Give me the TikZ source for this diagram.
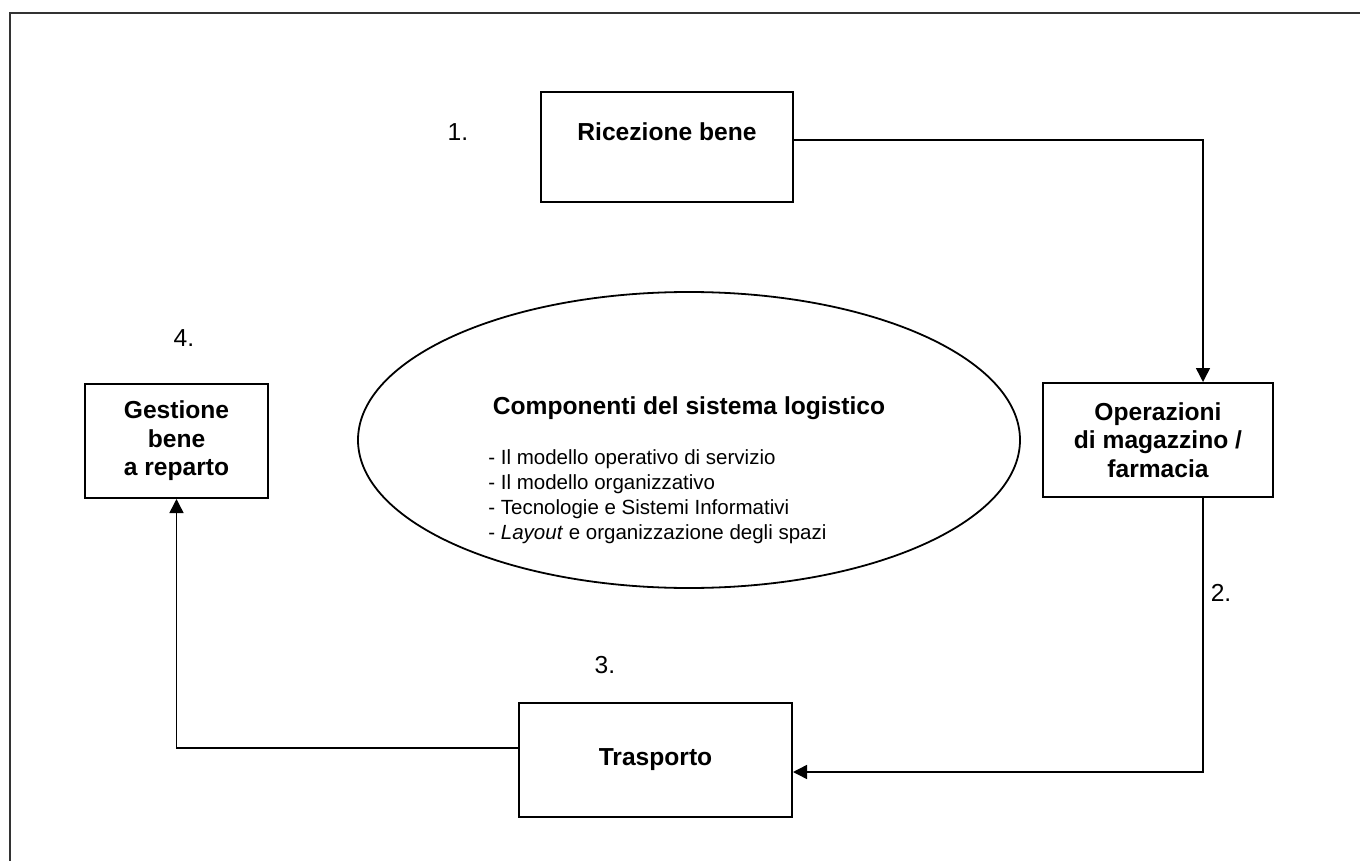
\documentclass[tikz,border=0pt]{standalone}
\usepackage{fontspec}
\setmainfont{Liberation Sans}
\usetikzlibrary{positioning}
\usetikzlibrary{calc}
\usetikzlibrary{arrows.meta}
\usetikzlibrary{shapes.geometric}

\begin{document}
\begin{tikzpicture}[
    x=0.5pt, y=-0.5pt,
    box/.style={rectangle, draw, line width=1pt, inner sep=0pt, minimum height=57pt, align=center, font=\fontsize{12.3pt}{14.2pt}\selectfont\bfseries},
    numero/.style={inner sep=0pt, font=\fontsize{12.3pt}{14.2pt}\selectfont},
    flow/.style={->, line width=0.75pt},
    >={Triangle[length=7pt,width=7pt]}
]
    \useasboundingbox (0,0) rectangle (1360,861);
    % cornice
    \draw[line width=1.2pt, black!80] (1360,13) -- (10,13) -- (10,861);

    \node[box, minimum width=126pt, minimum height=0pt, text height=24.5pt, text depth=30.5pt, anchor=base] (ricezione) at (667,141) {Ricezione bene};
    \node[box, minimum width=115pt] (operazioni) at (1158,440) {Operazioni\\di magazzino /\\farmacia};
    \node[box, minimum width=136.5pt] (trasporto) at (655.5,760) {Trasporto};
    \node[box, minimum width=91.5pt] (gestione) at (176.5,441) {Gestione\\bene\\a reparto};

    % componenti
    \node[ellipse, draw, line width=0.9pt, inner sep=0pt, minimum width=331pt, minimum height=148pt] (sistema) at (689,440) {};
    \node[inner sep=0pt, font=\fontsize{12.3pt}{14.2pt}\selectfont\bfseries] (titolo) at (689,408) {Componenti del sistema logistico};
    \node[inner sep=0pt, align=left, anchor=north west, font=\fontsize{10.25pt}{12.5pt}\selectfont] (elenco) at (488,449)
        {- Il modello operativo di servizio\\- Il modello organizzativo\\- Tecnologie e Sistemi Informativi\\- \textit{Layout} e organizzazione degli spazi};

    \node[numero] (n1) at (458,132) {1.};
    \node[numero] (n2) at (1221,593) {2.};
    \node[numero] (n3) at (605,665) {3.};
    \node[numero] (n4) at (184,338) {4.};

    \draw[flow] ([yshift=3.5pt]ricezione.east) -| ([xshift=22.5pt]operazioni.north);
    \draw[flow] ([xshift=22.5pt]operazioni.south) |- ([yshift=-6pt]trasporto.east);
    \draw[flow] ([yshift=6pt]trasporto.west) -| (gestione.south);
\end{tikzpicture}
\end{document}
